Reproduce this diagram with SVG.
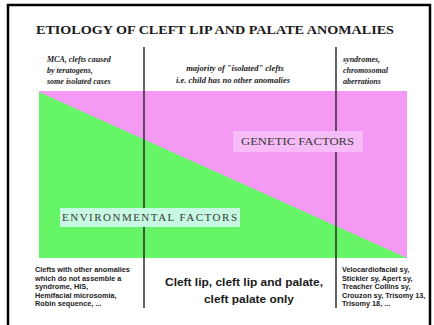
<svg xmlns="http://www.w3.org/2000/svg" width="434" height="325" viewBox="0 0 434 325">
<style>
.ti{font-family:"Liberation Serif",serif;font-weight:bold;font-size:11.5px;fill:#1a1a1a}
.it{font-family:"Liberation Serif",serif;font-style:italic;font-weight:bold;font-size:8px;fill:#222}
.itm{font-family:"Liberation Serif",serif;font-style:italic;font-weight:bold;font-size:8.5px;fill:#222}
.lab{font-family:"Liberation Serif",serif;font-size:11px;fill:#3a3a3a}
.sm{font-family:"Liberation Sans",sans-serif;font-weight:bold;font-size:7.3px;fill:#222}
.big{font-family:"Liberation Sans",sans-serif;font-weight:bold;font-size:11px;fill:#1a1a1a}
.vl{stroke:#222;stroke-width:1.4}
</style>
<rect x="0" y="0" width="434" height="325" fill="#ffffff"/>
<path d="M8 325 V5 H430 V325" fill="none" stroke="#000" stroke-width="2.5"/>
<text class="ti" x="36" y="34" textLength="358" lengthAdjust="spacingAndGlyphs">ETIOLOGY OF CLEFT LIP AND PALATE ANOMALIES</text>
<g id="chart">
<rect x="39" y="91" width="368" height="167" fill="#f49af4"/>
<polygon points="39,92 407,258 39,258" fill="#66f566"/>
</g>
<g id="connectors">
<line class="vl" x1="144" y1="47" x2="144" y2="308"/>
<line class="vl" x1="336" y1="47" x2="336" y2="308"/>
</g>
<g id="genetic">
<rect x="233" y="131" width="130" height="21" fill="#f7bcf7"/>
<text class="lab" x="241" y="145" textLength="113" lengthAdjust="spacingAndGlyphs">GENETIC FACTORS</text>
</g>
<g id="environmental">
<rect x="60" y="208" width="180" height="19" fill="#c6f8e2"/>
<text class="lab" x="62" y="221" textLength="175" lengthAdjust="spacing">ENVIRONMENTAL FACTORS</text>
</g>
<g id="top-left">
<text class="it" x="47" y="62">MCA, clefts caused</text>
<text class="it" x="47" y="73">by teratogens,</text>
<text class="it" x="47" y="84">some isolated cases</text>
</g>
<g id="top-middle">
<text class="itm" x="235" y="71" text-anchor="middle">majority of "isolated" clefts</text>
<text class="itm" x="233" y="83" text-anchor="middle">i.e. child has no other anomalies</text>
</g>
<g id="top-right">
<text class="it" x="343" y="62">syndromes,</text>
<text class="it" x="343" y="73">chromosomal</text>
<text class="it" x="343" y="84">aberrations</text>
</g>
<g id="bottom-left">
<text class="sm" x="35" y="272">Clefts with other anomalies</text>
<text class="sm" x="35" y="281">which do not assemble a</text>
<text class="sm" x="35" y="289">syndrome, HIS,</text>
<text class="sm" x="35" y="298">Hemifacial microsomia,</text>
<text class="sm" x="35" y="306">Robin sequence, ...</text>
</g>
<g id="bottom-middle">
<text class="big" x="244" y="286" text-anchor="middle" textLength="158" lengthAdjust="spacingAndGlyphs">Cleft lip, cleft lip and palate,</text>
<text class="big" x="249" y="303" text-anchor="middle" textLength="90" lengthAdjust="spacingAndGlyphs">cleft palate only</text>
</g>
<g id="bottom-right">
<text class="sm" x="342" y="272">Velocardiofacial sy,</text>
<text class="sm" x="342" y="281">Stickler sy, Apert sy,</text>
<text class="sm" x="342" y="289">Treacher Collins sy,</text>
<text class="sm" x="342" y="298">Crouzon sy, Trisomy 13,</text>
<text class="sm" x="342" y="306">Trisomy 18, ...</text>
</g>
</svg>
